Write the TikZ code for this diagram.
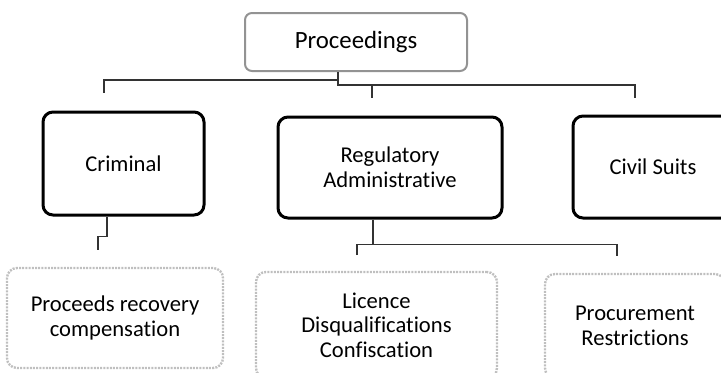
\documentclass[tikz,border=0pt]{standalone}
\usepackage{fontspec}
\setmainfont{Carlito}[Ligatures=NoCommon]
\usetikzlibrary{positioning}
\tikzset{every node/.append style={font=\fontsize{11.3}{12.3}\selectfont}}
\tikzset{headbox/.style={draw=gray!85,line width=1pt,rounded corners=3.5pt,align=center,inner sep=0pt,font=\fontsize{12.4}{14}\selectfont}}
\tikzset{mainbox/.style={draw=black,line width=1.5pt,rounded corners=5pt,align=center,inner sep=0pt}}
\tikzset{subbox/.style={draw=gray!50,line width=1.2pt,dash pattern=on 1pt off .6pt,rounded corners=5pt,align=center,inner sep=0pt}}
\tikzset{link/.style={draw=black!80,line width=.6pt}}

\begin{document}
\begin{tikzpicture}[x=.5pt,y=-.5pt]
  \useasboundingbox (0,0) rectangle (721,372);
  \clip (0,0) rectangle (721,372);
  \node[headbox,minimum width=111pt,minimum height=29pt] (proc) at (356,42) {Proceedings};
  \node[mainbox,minimum width=80.5pt,minimum height=51.5pt] (crim) at (123.5,163.5) {Criminal};
  \node[mainbox,minimum width=112pt,minimum height=50.5pt] (reg) at (390,167.5) {Regulatory\\Administrative};
  \node[mainbox,minimum width=80pt,minimum height=51pt] (civ) at (653,167) {Civil Suits};
  \node[subbox,minimum width=108pt,minimum height=50pt] (recov) at (115,318) {Proceeds recovery\\compensation};
  \node[subbox,minimum width=120.5pt,minimum height=53pt] (lic) at (376.5,325) {Licence\\Disqualifications\\Confiscation};
  \node[subbox,minimum width=90pt,minimum height=52pt] (procm) at (635,326) {Procurement\\Restrictions};
  \coordinate (jp) at (338,80);
  \coordinate (t1) at (104,93);
  \coordinate (t2) at (372,98);
  \coordinate (t3) at (635,98);
  \coordinate (t4) at (98,250);
  \coordinate (t5) at (357,255);
  \coordinate (t6) at (617,256);
  \draw[link] (proc.south -| jp) -- (jp) -| (t1);
  \draw[link] (jp) -- ++(0,5) coordinate (jq) -| (t3);
  \draw[link] (jq -| t2) -- (t2);
  \draw[link] ([xshift=-8.25pt]crim.south) -- ++(0,20) -| (t4);
  \draw[link] ([xshift=-8.5pt]reg.south) -- ++(0,25) coordinate (jr);
  \draw[link] (t5) |- (jr) -| (t6);
\end{tikzpicture}
\end{document}
